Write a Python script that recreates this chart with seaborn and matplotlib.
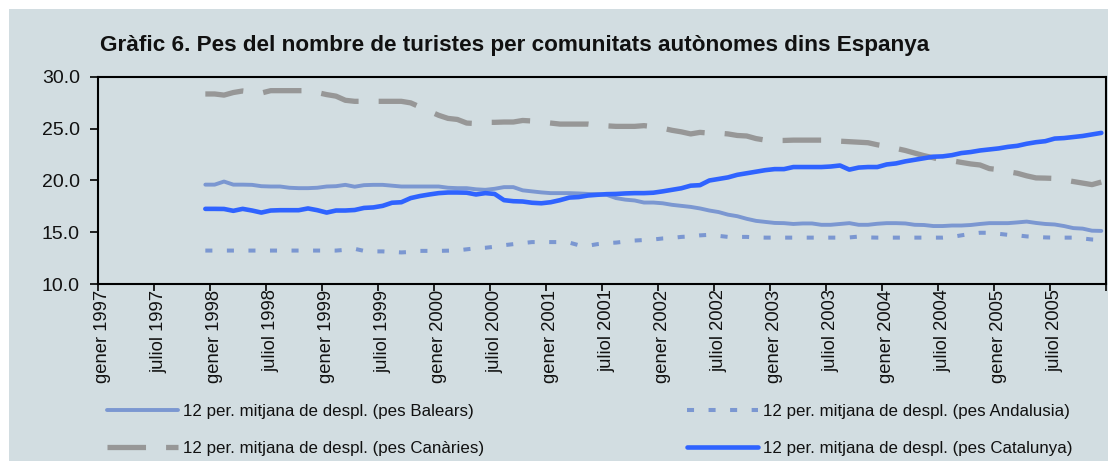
import numpy as np
import pandas as pd
import matplotlib
matplotlib.use("Agg")
import matplotlib.pyplot as plt
import seaborn as sns
from matplotlib.patches import Rectangle

# Gràfic 6: 12-month moving averages, monthly categories from gener 1997 (0) to desembre 2005 (107)
n_months = 108
first_month = 11  # desembre 1997: first value of the 12-month moving average

tick_labels = ["gener 1997", "juliol 1997", "gener 1998", "juliol 1998", "gener 1999",
               "juliol 1999", "gener 2000", "juliol 2000", "gener 2001", "juliol 2001",
               "gener 2002", "juliol 2002", "gener 2003", "juliol 2003", "gener 2004",
               "juliol 2004", "gener 2005", "juliol 2005"]

balears = [
    19.6, 19.6, 19.9, 19.6, 19.6, 19.58, 19.45, 19.42, 19.42, 19.3, 19.26, 19.26, 19.3, 19.42, 19.45,
    19.58, 19.4, 19.55, 19.58, 19.58, 19.5, 19.42, 19.42, 19.42, 19.42, 19.42, 19.3, 19.26, 19.26, 19.15, 19.1,
    19.2, 19.36, 19.36, 19.05, 18.95, 18.85, 18.78, 18.78, 18.78, 18.75, 18.7, 18.68, 18.62, 18.3, 18.15, 18.07,
    17.87, 17.87, 17.8, 17.65, 17.55, 17.45, 17.3, 17.1, 16.95, 16.7, 16.55, 16.3, 16.1, 16.0, 15.9, 15.88,
    15.8, 15.85, 15.85, 15.72, 15.72, 15.8, 15.88, 15.72, 15.72, 15.82, 15.88, 15.88, 15.85, 15.72, 15.7, 15.6,
    15.6, 15.65, 15.65, 15.7, 15.8, 15.88, 15.88, 15.88, 15.95, 16.03, 15.9, 15.8, 15.75, 15.6, 15.4, 15.35,
    15.15, 15.13]

andalusia = [
    13.23, 13.23, 13.23, 13.23, 13.23, 13.23, 13.23, 13.23, 13.23, 13.23, 13.23, 13.23, 13.23, 13.23, 13.23,
    13.3, 13.4, 13.2, 13.15, 13.15, 13.1, 13.05, 13.1, 13.2, 13.2, 13.2, 13.22, 13.25, 13.35, 13.45, 13.5,
    13.6, 13.75, 13.85, 13.95, 14.05, 14.05, 14.05, 14.05, 14.0, 13.75, 13.7, 13.85, 13.95, 14.0, 14.1, 14.2,
    14.25, 14.3, 14.4, 14.45, 14.55, 14.6, 14.7, 14.75, 14.65, 14.55, 14.55, 14.55, 14.5, 14.48, 14.48, 14.48,
    14.48, 14.48, 14.48, 14.48, 14.48, 14.48, 14.5, 14.58, 14.5, 14.48, 14.48, 14.48, 14.48, 14.48, 14.48, 14.48,
    14.48, 14.55, 14.7, 14.85, 14.95, 14.95, 14.85, 14.75, 14.7, 14.6, 14.55, 14.5, 14.48, 14.48, 14.48, 14.4,
    14.3, 14.26]

canaries = [
    28.36, 28.36, 28.25, 28.5, 28.65, 28.55, 28.45, 28.68, 28.68, 28.68, 28.68, 28.68, 28.5, 28.3, 28.15,
    27.75, 27.65, 27.65, 27.65, 27.65, 27.65, 27.65, 27.5, 27.1, 26.7, 26.3, 26.0, 25.9, 25.55, 25.5, 25.62,
    25.62, 25.65, 25.65, 25.8, 25.75, 25.65, 25.55, 25.45, 25.45, 25.45, 25.45, 25.35, 25.28, 25.23, 25.23, 25.23,
    25.3, 25.2, 25.05, 24.85, 24.7, 24.5, 24.65, 24.58, 24.58, 24.5, 24.35, 24.3, 24.05, 23.9, 23.87, 23.87,
    23.9, 23.9, 23.9, 23.9, 23.85, 23.8, 23.75, 23.7, 23.65, 23.45, 23.3, 23.1, 22.9, 22.65, 22.4, 22.2,
    21.95, 21.9, 21.75, 21.6, 21.5, 21.15, 21.05, 20.85, 20.7, 20.45, 20.25, 20.23, 20.2, 20.05, 19.9, 19.75,
    19.6, 19.85]

catalunya = [
    17.26, 17.26, 17.25, 17.07, 17.26, 17.1, 16.9, 17.1, 17.13, 17.13, 17.13, 17.3, 17.13, 16.9, 17.1,
    17.1, 17.15, 17.35, 17.4, 17.55, 17.85, 17.9, 18.3, 18.5, 18.65, 18.78, 18.84, 18.84, 18.82, 18.65, 18.78,
    18.7, 18.1, 18.0, 17.97, 17.85, 17.8, 17.9, 18.1, 18.35, 18.4, 18.55, 18.62, 18.68, 18.7, 18.75, 18.78,
    18.78, 18.82, 18.95, 19.1, 19.25, 19.5, 19.55, 20.0, 20.15, 20.3, 20.55, 20.7, 20.85, 21.0, 21.1, 21.1,
    21.3, 21.3, 21.3, 21.3, 21.35, 21.45, 21.05, 21.25, 21.3, 21.3, 21.55, 21.65, 21.85, 22.0, 22.15, 22.3,
    22.33, 22.45, 22.65, 22.75, 22.9, 23.0, 23.1, 23.25, 23.35, 23.55, 23.7, 23.8, 24.05, 24.1, 24.2, 24.3,
    24.45, 24.6]

labels = ["12 per. mitjana de despl. (pes Balears)",
          "12 per. mitjana de despl. (pes Andalusia)",
          "12 per. mitjana de despl. (pes Canàries)",
          "12 per. mitjana de despl. (pes Catalunya)"]

bg = "#d2dde1"
sns.set_style("ticks")
plt.rcParams["font.family"] = ["Liberation Sans", "DejaVu Sans"]
plt.rcParams["text.color"] = "#111111"

fig = plt.figure(figsize=(11.08, 4.61), dpi=100, facecolor="white")
fig.patches.append(Rectangle((9 / 1108, 0), 1, 1 - 9 / 461, transform=fig.transFigure,
                             facecolor=bg, edgecolor="none", zorder=-1))
ax = fig.add_axes([98 / 1108, 1 - 284 / 461, 1008 / 1108, 207 / 461])
ax.set_facecolor(bg)

x = np.arange(first_month, first_month + len(balears))
df = pd.DataFrame({"mes": x, "balears": balears, "andalusia": andalusia,
                   "canaries": canaries, "catalunya": catalunya})

styles = [
    ("balears", "#7b97d1", 2.8, "-"),
    ("andalusia", "#7b97d1", 2.9, (0, (1.75, 3.6))),
    ("canaries", "#979797", 3.8, (0, (7.3, 3.8))),
    ("catalunya", "#2f63ff", 3.3, "-"),
]
handles = []
for (col, color, lw, ls), lab in zip(styles, labels):
    sns.lineplot(data=df, x="mes", y=col, ax=ax, color=color, linewidth=lw,
                 linestyle=ls, legend=False)
    handles.append(ax.get_lines()[-1])
if ax.get_legend() is not None:
    ax.get_legend().remove()

ax.set_xlim(-0.5, n_months - 0.5)
ax.set_ylim(10, 30)
ax.set_yticks([10, 15, 20, 25, 30])
ax.set_yticklabels([f"{v:.1f}" for v in [10, 15, 20, 25, 30]], fontsize=14, color="#111111")
ax.set_xticks(np.arange(-0.5, n_months, 6))
ax.set_xticklabels([])
ax.set_xticks(np.arange(0, n_months, 6), minor=True)
ax.set_xticklabels(tick_labels, minor=True, rotation=90, fontsize=13.2, va="top", color="#111111")
ax.tick_params(axis="x", which="minor", length=0, pad=4)
ax.tick_params(axis="x", which="major", length=5, width=1.2, color="black")
ax.tick_params(axis="y", length=6, width=1.2, pad=7, color="black")
ax.set_xlabel("")
ax.set_ylabel("")
for s in ax.spines.values():
    s.set_visible(True)
    s.set_color("black")
    s.set_linewidth(1.5)

fig.text(100 / 1108, 1 - 45 / 461,
         "Gràfic 6. Pes del nombre de turistes per comunitats autònomes dins Espanya",
         fontsize=16.2, fontweight="bold", va="center", ha="left")

leg_kw = dict(loc="upper left", frameon=False, fontsize=12.2, borderpad=0, borderaxespad=0,
              handlelength=4.2, handletextpad=0.3, labelspacing=1.3)
leg1 = fig.legend([handles[0], handles[2]], [labels[0], labels[2]],
                  bbox_to_anchor=(107 / 1108, 1 - 404 / 461), **leg_kw)
leg2 = fig.legend([handles[1], handles[3]], [labels[1], labels[3]],
                  bbox_to_anchor=(687 / 1108, 1 - 404 / 461), **leg_kw)

fig.savefig("out.png", dpi=100, facecolor=fig.get_facecolor())
